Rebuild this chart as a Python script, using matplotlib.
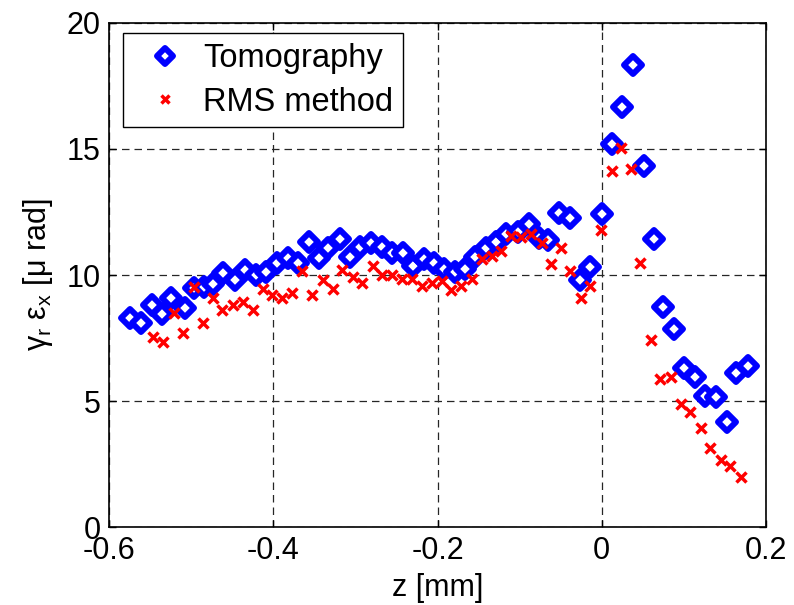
import matplotlib

matplotlib.use("Agg")
import matplotlib.pyplot as plt
from matplotlib.markers import MarkerStyle

plt.rcParams["font.family"] = ["Liberation Sans", "DejaVu Sans"]
plt.rcParams["mathtext.fontset"] = "custom"
plt.rcParams["mathtext.rm"] = "Liberation Sans"
plt.rcParams["mathtext.it"] = "Liberation Sans"
plt.rcParams["mathtext.default"] = "regular"

# Tomography (blue diamonds)
z_tomo = [
    -0.574, -0.561, -0.548, -0.536, -0.524, -0.508, -0.497, -0.484, -0.473, -0.461,
    -0.447, -0.434, -0.421, -0.409, -0.396, -0.382, -0.370, -0.357, -0.344, -0.333,
    -0.319, -0.307, -0.294, -0.281, -0.268, -0.255, -0.242, -0.230, -0.217, -0.204,
    -0.192, -0.179, -0.167, -0.154, -0.141, -0.129, -0.117, -0.102, -0.089, -0.076,
    -0.065, -0.052, -0.039, -0.027, -0.014, 0.000, 0.012, 0.025, 0.038, 0.051,
    0.064, 0.075, 0.088, 0.100, 0.113, 0.126, 0.139, 0.152, 0.164, 0.178,
]
e_tomo = [
    8.31, 8.09, 8.81, 8.44, 9.08, 8.68, 9.47, 9.54, 9.63, 10.07,
    9.80, 10.20, 10.00, 10.11, 10.46, 10.66, 10.49, 11.32, 10.66, 11.06,
    11.41, 10.73, 11.12, 11.28, 11.10, 10.86, 10.86, 10.37, 10.62, 10.49,
    10.23, 10.13, 10.23, 10.70, 11.08, 11.32, 11.61, 11.72, 12.02, 11.45,
    11.39, 12.47, 12.25, 9.80, 10.33, 12.41, 15.19, 16.65, 18.32, 14.32,
    11.44, 8.73, 7.85, 6.30, 5.97, 5.22, 5.18, 4.19, 6.10, 6.39,
]

# RMS method (red crosses)
z_rms = [
    -0.547, -0.534, -0.521, -0.510, -0.497, -0.486, -0.473, -0.462, -0.449, -0.437,
    -0.425, -0.413, -0.401, -0.389, -0.377, -0.365, -0.353, -0.340, -0.327, -0.316,
    -0.303, -0.292, -0.279, -0.268, -0.256, -0.243, -0.231, -0.219, -0.207, -0.194,
    -0.183, -0.171, -0.158, -0.146, -0.134, -0.123, -0.111, -0.098, -0.086, -0.073,
    -0.062, -0.050, -0.039, -0.025, -0.014, -0.001, 0.012, 0.023, 0.036, 0.047,
    0.060, 0.071, 0.084, 0.097, 0.108, 0.121, 0.132, 0.145, 0.156, 0.169,
]
e_rms = [
    7.55, 7.36, 8.51, 7.71, 9.51, 8.09, 9.10, 8.61, 8.81, 8.94,
    8.61, 9.45, 9.21, 9.08, 9.27, 10.17, 9.21, 9.80, 9.45, 10.19,
    9.93, 9.69, 10.37, 10.00, 10.00, 9.83, 9.83, 9.56, 9.69, 9.76,
    9.41, 9.56, 9.83, 10.63, 10.76, 10.96, 11.56, 11.49, 11.62, 11.26,
    10.42, 11.06, 10.17, 9.10, 9.56, 11.78, 14.12, 15.02, 14.19, 10.46,
    7.42, 5.87, 5.97, 4.89, 4.58, 3.92, 3.15, 2.67, 2.44, 2.00,
]

x_ticks = [-0.6, -0.4, -0.2, 0, 0.2]
x_ticklabels = ["-0.6", "-0.4", "-0.2", "0", "0.2"]
y_ticks = [0, 5, 10, 15, 20]

fig = plt.figure(figsize=(7.94, 6.05), dpi=100)
ax = fig.add_axes([0.1373, 0.1284, 0.8275, 0.8340])

ax.plot(
    z_tomo,
    e_tomo,
    linestyle="none",
    marker=MarkerStyle("D", joinstyle="round"),
    markersize=9,
    markerfacecolor="white",
    markeredgecolor="#0000ff",
    markeredgewidth=4.3,
    label="Tomography",
    zorder=4,
)
ax.plot(
    z_rms,
    e_rms,
    linestyle="none",
    marker="x",
    markersize=6.5,
    markeredgecolor="#ff0000",
    markeredgewidth=2.5,
    label="RMS method",
    zorder=5,
)

ax.set_xlim(-0.6, 0.2)
ax.set_ylim(0, 20)
ax.set_xticks(x_ticks)
ax.set_xticklabels(x_ticklabels)
ax.set_yticks(y_ticks)
ax.tick_params(
    axis="both",
    which="major",
    direction="in",
    length=5,
    width=1,
    labelsize=22,
    top=True,
    right=True,
    pad=6,
)
ax.grid(True, color="0.15", linestyle=(0, (6, 4)), linewidth=0.9, zorder=0)
ax.set_axisbelow(True)
for spine in ax.spines.values():
    spine.set_linewidth(1.2)

ax.set_xlabel("z [mm]", fontsize=22, labelpad=5)
ax.set_ylabel(r"$\gamma_r\ \varepsilon_x\ [\mu\ rad]$", fontsize=22, labelpad=8)

leg = ax.legend(
    loc="upper left",
    bbox_to_anchor=(0.021, 0.979),
    borderaxespad=0,
    fontsize=23.5,
    frameon=True,
    fancybox=False,
    edgecolor="black",
    framealpha=1,
    handlelength=2.0,
    handletextpad=0.15,
    borderpad=0.3,
    labelspacing=0.38,
    markerscale=0.85,
)
leg.get_frame().set_linewidth(1.0)

fig.savefig("out.png", dpi=100)
